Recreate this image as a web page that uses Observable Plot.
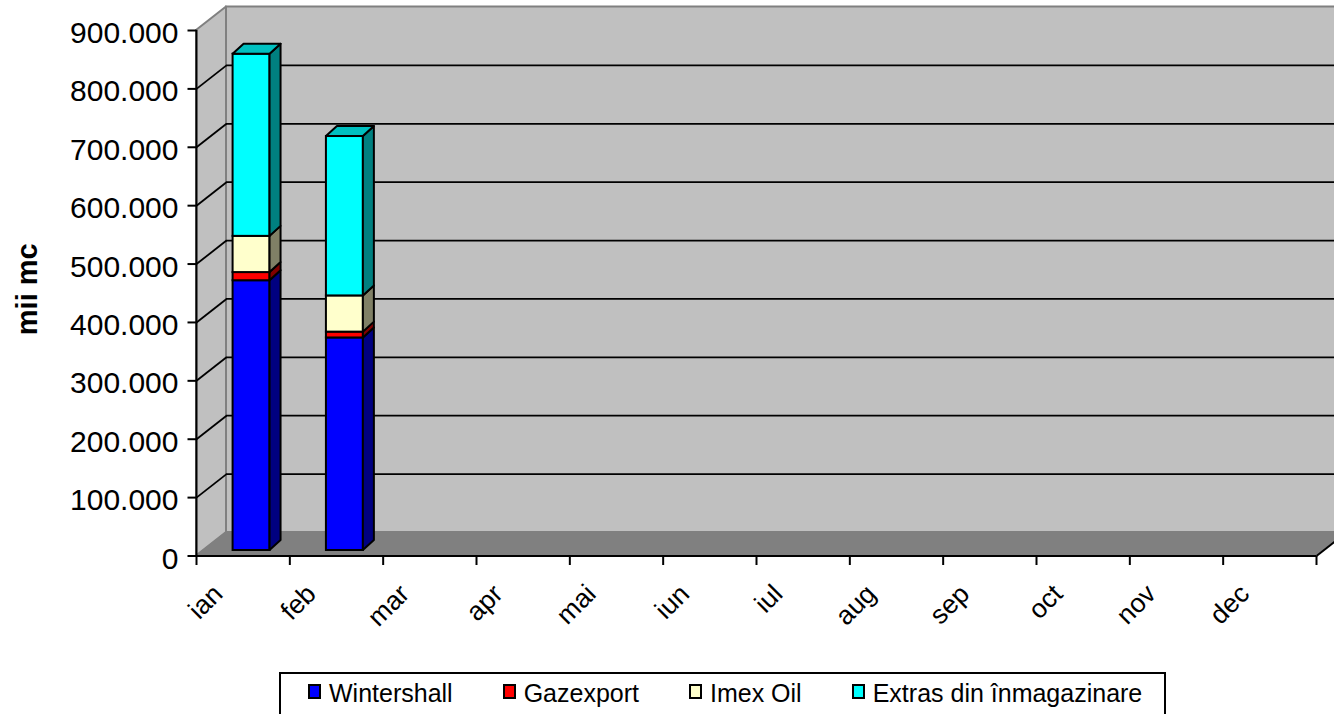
<!DOCTYPE html>
<html><head><meta charset="utf-8">
<script src="https://cdn.jsdelivr.net/npm/d3@7"></script>
<script src="https://cdn.jsdelivr.net/npm/@observablehq/plot@0.6"></script>
<style>
html,body{margin:0;padding:0;background:#fff;overflow:hidden;width:1334px;height:714px;position:relative;}
#chart{position:absolute;left:0;top:0;}
#legend{position:absolute;left:279px;top:672px;width:887px;height:60px;box-sizing:border-box;border:2px solid #000;background:#fff;display:flex;padding:4px 0 0 27px;font-family:"Liberation Sans",Arial,sans-serif;font-size:25px;line-height:30px;color:#000;}
.item{display:flex;align-items:flex-start;margin-right:50px;white-space:nowrap}
.sw{width:13px;height:15px;box-sizing:border-box;border:2px solid #000;margin-top:6px;margin-right:8px}
</style></head><body>
<div id="chart"></div><div id="legend"></div>
<script>
// ---- data ----
const months = ["ian","feb","mar","apr","mai","iun","iul","aug","sep","oct","nov","dec"];
const series = ["Wintershall","Gazexport","Imex Oil","Extras din înmagazinare"];
const wintershall = [462000, 364000];
const gazexport = [14000, 10000];
const imexOil = [62000, 62000];
const extras = [312000, 273000];
const yTicks = [0,100000,200000,300000,400000,500000,600000,700000,800000,900000];
const yLabel = "mii mc";
const frontColors = ["#0000FF","#FF0000","#FFFFCC","#00FFFF"];
const sideColors = ["#000080","#800000","#808066","#008080"];
const topColors = ["#0000C0","#C00000","#C0C099","#00C0C0"];

// ---- layout / geometry (pixels) ----
const W = 1334, H = 640, mL = 196, mR = 18, mT = 30, mB = 84.5;
const yMax = yTicks[yTicks.length - 1];
const nM = months.length;
const pxX = (W - mL - mR) / nM;
const pxY = (H - mT - mB) / yMax;
const wallDX = 30 / pxX, wallDY = 23.5 / pxY;
const barDX = 11 / pxX, barDY = 10 / pxY;
const barCenter = 0.59, barHalf = 0.198;
const barLift = -5.5, barShift = 0;

const values = [wintershall, gazexport, imexOil, extras];
const segs = [];
for (let i = 0; i < wintershall.length; i++) {
  let cum = 0;
  values.forEach((arr, s) => {
    const v = arr[i];
    segs.push({i, s, lo: cum, hi: cum + v, xL: i + barCenter - barHalf, xR: i + barCenter + barHalf, last: s === values.length - 1});
    cum += v;
  });
}
const fmt = d => d3.format(",")(d).replace(/,/g, ".");
const grid = yTicks.filter(d => d > 0 && d < yMax);
const bounds = d3.range(nM + 1);

const marks = [];
// back wall
marks.push(Plot.rect([0], {x1: () => wallDX, x2: () => nM + wallDX, y1: () => wallDY, y2: () => yMax + wallDY, fill: "#C0C0C0", stroke: "#808080", strokeWidth: 2}));
// left wall
marks.push(Plot.areaY([{x: 0, y1: 0, y2: yMax}, {x: wallDX, y1: wallDY, y2: yMax + wallDY}], {x: "x", y1: "y1", y2: "y2", fill: "#C0C0C0", stroke: "#808080", strokeWidth: 2}));
// floor
marks.push(Plot.areaX([{y: 0, x1: 0, x2: nM}, {y: wallDY, x1: wallDX, x2: nM + wallDX}], {y: "y", x1: "x1", x2: "x2", fill: "#808080", stroke: "#808080", strokeWidth: 1}));
// gridlines
marks.push(Plot.ruleY(grid, {y: d => d + wallDY, x1: () => wallDX, x2: () => nM + wallDX, stroke: "#000", strokeWidth: 1.8}));
marks.push(Plot.link(grid, {x1: () => 0, y1: d => d, x2: () => wallDX, y2: d => d + wallDY, stroke: "#000", strokeWidth: 1.8}));
// bars
series.forEach((name, s) => {
  const ss = segs.filter(d => d.s === s);
  marks.push(Plot.rect(ss, {x1: "xL", x2: "xR", y1: "lo", y2: "hi", fill: frontColors[s], stroke: "#000", strokeWidth: 2, dy: barLift, dx: barShift}));
  const side = ss.flatMap(d => [{k: d.i, x: d.xR, y1: d.lo, y2: d.hi}, {k: d.i, x: d.xR + barDX, y1: d.lo + barDY, y2: d.hi + barDY}]);
  marks.push(Plot.areaY(side, {x: "x", y1: "y1", y2: "y2", z: "k", fill: sideColors[s], stroke: "#000", strokeWidth: 2, strokeLinejoin: "round", dy: barLift, dx: barShift}));
  const top = ss.filter(d => d.last).flatMap(d => [{k: d.i, y: d.hi, x1: d.xL, x2: d.xR}, {k: d.i, y: d.hi + barDY, x1: d.xL + barDX, x2: d.xR + barDX}]);
  if (top.length) marks.push(Plot.areaX(top, {y: "y", x1: "x1", x2: "x2", z: "k", fill: topColors[s], stroke: "#000", strokeWidth: 2, strokeLinejoin: "round", dy: barLift, dx: barShift}));
});
// axes
marks.push(Plot.ruleX([0], {y1: () => 0, y2: () => yMax, stroke: "#000", strokeWidth: 2}));
marks.push(Plot.ruleY([0], {x1: () => 0, x2: () => nM, stroke: "#000", strokeWidth: 2}));
marks.push(Plot.link([0], {x1: () => nM, y1: () => 0, x2: () => nM + wallDX, y2: () => wallDY, stroke: "#000", strokeWidth: 2}));
marks.push(Plot.link(yTicks, {x1: () => -9 / pxX, x2: () => 0, y1: d => d, y2: d => d, stroke: "#000", strokeWidth: 2}));
marks.push(Plot.link(bounds, {x1: d => d, x2: d => d, y1: () => 0, y2: () => -9 / pxY, stroke: "#000", strokeWidth: 2}));
marks.push(Plot.text(yTicks, {x: () => 0, y: d => d, text: fmt, textAnchor: "end", dx: -18, dy: 3, fontSize: 30, fill: "#000"}));
marks.push(Plot.text(months, {x: (d, i) => i + 0.5, y: () => 0, text: d => d, rotate: -45, textAnchor: "end", dx: -25, dy: 33.5, fontSize: 26.5, fill: "#000"}));
marks.push(Plot.text([yLabel], {frameAnchor: "left", text: d => d, textAnchor: "middle", rotate: -90, dx: -169, dy: -4, fontSize: 29, fontWeight: "bold", fill: "#000"}));

const plot = Plot.plot({
  width: W, height: H,
  marginLeft: mL, marginRight: mR, marginTop: mT, marginBottom: mB,
  x: {type: "linear", domain: [0, nM], axis: null},
  y: {type: "linear", domain: [0, yMax], axis: null},
  style: {fontFamily: "'Liberation Sans', Arial, sans-serif", background: "transparent", color: "#000"},
  marks
});
document.getElementById("chart").appendChild(plot);

const leg = document.getElementById("legend");
series.forEach((name, s) => {
  const it = document.createElement("div"); it.className = "item";
  const sw = document.createElement("div"); sw.className = "sw"; sw.style.background = frontColors[s];
  const tx = document.createElement("span"); tx.textContent = name;
  it.appendChild(sw); it.appendChild(tx); leg.appendChild(it);
});
</script>
</body></html>
